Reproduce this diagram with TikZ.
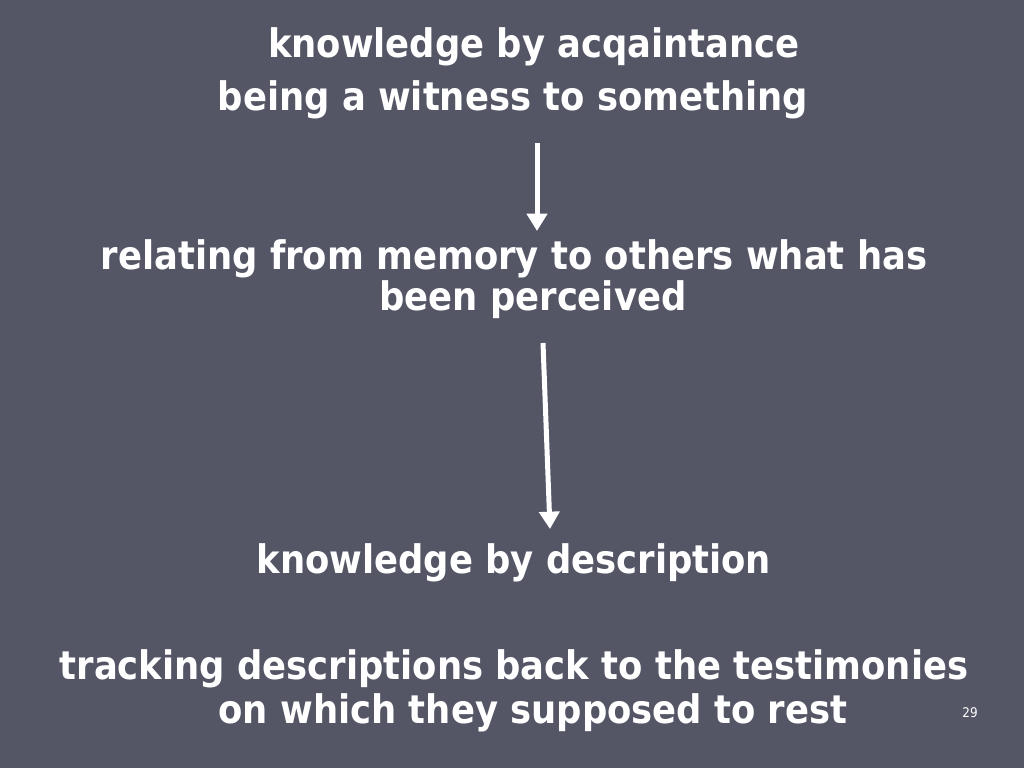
\documentclass[tikz,border=0pt]{standalone}
\usepackage{fontspec}
\setmainfont{DejaVu Sans Condensed}
\usetikzlibrary{arrows.meta}
\definecolor{slidebg}{RGB}{84,86,102}
\tikzset{
  slidetext/.style={text=white, font=\fontsize{29.5}{34}\selectfont\bfseries, inner sep=0pt, align=center},
  flow/.style={draw=white, line width=3.75pt, -{Triangle[width=15pt,length=13pt]}}
}
\begin{document}
\begin{tikzpicture}[x=0.75pt,y=-0.75pt]
\fill[slidebg] (0,0) rectangle (1024,768);
\useasboundingbox (0,0) rectangle (1024,768);
\node[slidetext] (acq) at (534,47) {knowledge by acqaintance};
\node[slidetext] (witness) at (513,100) {being a witness to something};
\node[slidetext] (relate) at (514,259) {relating from memory to others what has};
\node[slidetext] (perceived) at (533,300) {been perceived};
\node[slidetext] (descr) at (514,563) {knowledge by description};
\node[slidetext] (track) at (514,669) {tracking descriptions back to the testimonies};
\node[slidetext] (rest) at (533,713) {on which they supposed to rest};
\node[text=white, font=\fontsize{10}{12}\selectfont, inner sep=0pt] (num) at (970,713) {29};
\coordinate (a1s) at (537,143);
\coordinate (a1e) at (537,231);
\coordinate (a2s) at (543,343);
\coordinate (a2e) at (550,529);
\draw[flow] (a1s) -- (a1e);
\draw[flow] (a2s) -- (a2e);
\end{tikzpicture}
\end{document}
